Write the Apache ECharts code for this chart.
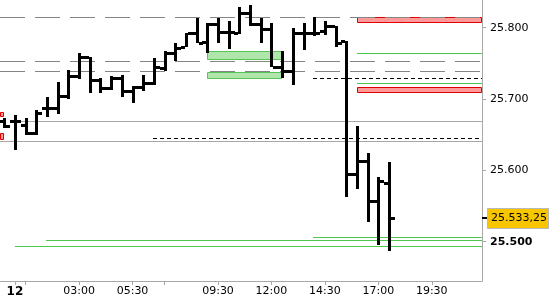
<!DOCTYPE html>
<html><head><meta charset="utf-8">
<script src="https://cdn.jsdelivr.net/npm/echarts@6/dist/echarts.min.js"></script>
<style>html,body{margin:0;padding:0;background:#fff}#c{width:550px;height:300px}</style>
</head><body><div id="c"></div>
<script>
// 30-minute bars, index 0 = 23:30 (previous day), index 1 = 00:00 of day 12
const openV  = [25669.6,25669.6,25663.6,25652.0,25687.0,25687.0,25704.7,25732.3,25758.5,25726.7,25715.0,25729.9,25711.3,25717.3,25722.9,25743.1,25764.1,25773.4,25792.1,25780.4,25805.2,25794.4,25793.0,25820.2,25805.2,25797.8,25745.3,25739.3,25792.1,25792.1,25795.4,25802.4,25781.8,25594.9,25613.1,25557.5,25582.7];
const highV  = [25673.0,25677.6,25673.0,25684.6,25702.4,25724.3,25740.7,25765.0,25758.5,25729.1,25732.3,25733.7,25718.3,25733.7,25757.1,25767.3,25778.1,25793.0,25813.2,25806.2,25813.2,25809.8,25828.6,25831.4,25813.2,25806.2,25767.8,25799.2,25806.2,25815.4,25809.8,25802.4,25781.8,25662.2,25624.8,25590.3,25611.3];
const lowV   = [25659.0,25628.6,25649.6,25649.6,25674.4,25678.6,25699.6,25728.1,25708.9,25708.9,25712.7,25702.4,25694.9,25711.7,25719.7,25739.7,25753.3,25772.5,25778.1,25764.1,25779.0,25769.7,25791.2,25802.4,25779.0,25745.3,25729.1,25719.7,25768.3,25787.9,25789.8,25773.4,25562.2,25573.5,25528.0,25495.4,25487.4];
const closeV = [25662.2,25669.0,25652.0,25680.8,25687.0,25704.7,25732.3,25758.5,25726.7,25715.0,25729.9,25711.3,25717.3,25722.9,25745.3,25764.1,25771.1,25792.1,25779.0,25805.2,25794.4,25794.4,25820.2,25805.2,25797.8,25745.3,25739.3,25792.1,25792.1,25793.0,25802.4,25779.0,25594.9,25613.1,25557.5,25585.1,25533.25];

// x-axis ticks (bar index) and labels
const labelIdx = [1,7,12,20,25,30,35,40];
const labelText = ['12','03:00','05:30','09:30','12:00','14:30','17:00','19:30'];
const tickIdx = [1,2,7,12,15,20,25,30,35,40];
// y-axis ticks
const yTicks = [25500,25600,25700,25800];

// horizontal levels
const levelStart = [-0.4,-0.4,-0.4,1,-0.4,13.9,28.9,33,33,28.9,3.9,1];
const levelValue = [25815.0,25752.9,25738.9,25668.8,25640.7,25645.8,25729.5,25764.1,25722.0,25506.2,25502.4,25494.0];
const levelKind  = ['grayDash','grayDash','grayDash','gray','gray','blackDash','blackDash','green','green','green','green','green'];

// zones
const zoneStart  = [19.0,19.0,33.0,33.0,-0.4,-0.4];
const zoneEnd    = [26.0,26.0,44.7,44.7,0.0,0.0];
const zoneTop    = [25767.3,25738.3,25814.5,25716.4,25682.2,25652.0];
const zoneBottom = [25754.3,25728.5,25806.1,25708.0,25674.4,25642.1];
const zoneKind   = ['green','green','red','red','red','red'];

const X_MIN = -0.4, X_MAX = 44.7;
const Y_MIN = 25444.9, Y_MAX = 25838.8;
const FONT = 'DejaVu Sans';

function fmtPrice(v, dec) {
  const neg = v < 0; v = Math.abs(v);
  let s = dec ? v.toFixed(dec) : String(Math.round(v));
  let [ip, fp] = s.split('.');
  ip = ip.replace(/\B(?=(\d{3})+(?!\d))/g, '.');
  return (neg ? '-' : '') + ip + (fp ? ',' + fp : '');
}

const bars = openV.map((o, i) => [i, o, highV[i], lowV[i], closeV[i]]);
const levels = levelValue.map((v, i) => [levelStart[i], X_MAX, v, i]);
const zones = zoneTop.map((t, i) => [zoneStart[i], zoneEnd[i], t, zoneBottom[i], i]);

const levelStyles = {
  grayDash: {stroke: '#858585', lineWidth: 1, lineDash: [25, 10]},
  gray: {stroke: '#a8a8a8', lineWidth: 1},
  blackDash: {stroke: '#000', lineWidth: 1, lineDash: [4, 3]},
  green: {stroke: '#4cc84c', lineWidth: 1}
};
const zoneStyles = {
  green: {fill: '#b0e6ab', stroke: '#58c458', lineWidth: 1},
  red: {fill: '#ff9a9a', stroke: '#e00000', lineWidth: 1}
};

const chart = echarts.init(document.getElementById('c'), null, {renderer: 'canvas'});
chart.setOption({
  animation: false,
  backgroundColor: '#fff',
  grid: {left: 0, right: 68, top: 0, bottom: 19},
  xAxis: {
    type: 'value', min: X_MIN, max: X_MAX,
    axisLine: {show: true, onZero: false, lineStyle: {color: '#a8a8a8'}},
    axisTick: {show: true, length: 4, customValues: tickIdx, lineStyle: {color: '#a8a8a8'}},
    axisLabel: {
      customValues: labelIdx, margin: 5, fontFamily: FONT, fontSize: 11, color: '#000',
      formatter: v => {
        const k = labelIdx.indexOf(Math.round(v));
        if (k < 0) return '';
        return k === 0 ? '{b|' + labelText[k] + '}' : labelText[k];
      },
      rich: {b: {fontWeight: 'bold', fontFamily: FONT, fontSize: 12, color: '#000'}}
    },
    splitLine: {show: false}
  },
  yAxis: {
    type: 'value', position: 'right', min: Y_MIN, max: Y_MAX, scale: true,
    axisLine: {show: true, onZero: false, lineStyle: {color: '#a8a8a8'}},
    axisTick: {show: true, length: 4, customValues: yTicks, lineStyle: {color: '#a8a8a8'}},
    axisLabel: {
      customValues: yTicks, margin: 8, fontFamily: FONT, fontSize: 11, color: '#000',
      formatter: v => v === 25500 ? '{b|' + fmtPrice(v) + '}' : fmtPrice(v),
      rich: {b: {fontWeight: 'bold', fontFamily: FONT, fontSize: 11, color: '#000'}}
    },
    splitLine: {show: false}
  },
  series: [
    {
      type: 'custom', name: 'zones', data: zones, clip: true, z: 1,
      encode: {x: [0, 1], y: [2, 3]},
      renderItem: (params, api) => {
        const k = zoneKind[api.value(4)];
        const p0 = api.coord([api.value(0), api.value(2)]);
        const p1 = api.coord([api.value(1), api.value(3)]);
        const x0 = Math.round(p0[0]) + 0.5, x1 = Math.round(p1[0]) - 0.5;
        const y0 = Math.round(p0[1]) + 0.5, y1 = Math.round(p1[1]) - 0.5;
        return {type: 'rect', shape: {x: x0, y: y0, width: x1 - x0, height: y1 - y0}, style: zoneStyles[k]};
      }
    },
    {
      type: 'custom', name: 'levels', data: levels, clip: true, z: 2,
      encode: {x: [0, 1], y: 2},
      renderItem: (params, api) => {
        const k = levelKind[api.value(3)];
        const p0 = api.coord([api.value(0), api.value(2)]);
        const p1 = api.coord([api.value(1), api.value(2)]);
        const y = Math.round(p0[1]) + 0.5;
        return {type: 'line', shape: {x1: Math.round(p0[0]), y1: y, x2: Math.round(p1[0]), y2: y}, style: levelStyles[k]};
      }
    },
    {
      type: 'custom', name: 'bars', data: bars, clip: true, z: 3,
      encode: {x: 0, y: [1, 2, 3, 4]},
      renderItem: (params, api) => {
        const i = api.value(0);
        const x = Math.round(api.coord([i, api.value(2)])[0]);
        const yH = Math.round(api.coord([i, api.value(2)])[1]);
        const yL = Math.round(api.coord([i, api.value(3)])[1]);
        const yO = Math.round(api.coord([i, api.value(1)])[1]);
        const yC = Math.round(api.coord([i, api.value(4)])[1]);
        const st = {fill: '#000'};
        return {type: 'group', children: [
          {type: 'rect', shape: {x: x - 1, y: yH, width: 3, height: Math.max(2, yL - yH)}, style: st},
          {type: 'rect', shape: {x: x - 5, y: yO - 1, width: 4, height: 3}, style: st},
          {type: 'rect', shape: {x: x + 2, y: yC - 1, width: 4, height: 3}, style: st}
        ]};
      }
    },
    {
      type: 'custom', name: 'last', data: [[bars.length - 1, closeV[closeV.length - 1]]], clip: false, z: 5,
      encode: {x: 0, y: 1},
      renderItem: (params, api) => {
        const v = api.value(1);
        const y = Math.round(api.coord([api.value(0), v])[1]);
        const ex = params.coordSys.x + params.coordSys.width;
        return {type: 'group', children: [
          {type: 'rect', shape: {x: ex, y: y - 1, width: 5, height: 2}, style: {fill: '#000'}},
          {type: 'rect', shape: {x: ex + 5.5, y: y - 9.5, width: 61, height: 20}, style: {fill: '#f7c600', stroke: '#b9b9b9', lineWidth: 1}},
          {type: 'text', style: {x: ex + 9, y: y + 0.5, text: fmtPrice(v, 2), fontFamily: FONT, fontSize: 11, fill: '#000', verticalAlign: 'middle', align: 'left'}}
        ]};
      }
    }
  ]
});
</script></body></html>
